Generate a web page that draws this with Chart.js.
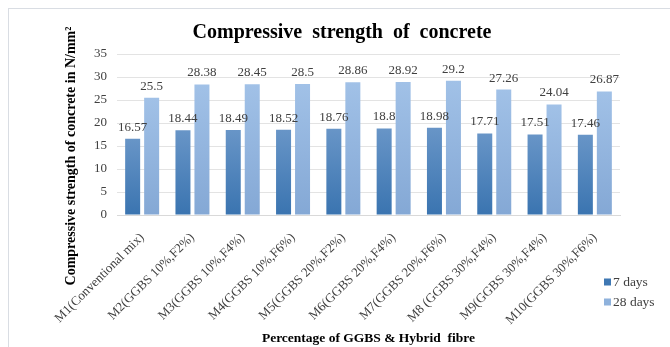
<!DOCTYPE html>
<html>
<head>
<meta charset="utf-8">
<script src="https://cdn.jsdelivr.net/npm/chart.js@4/dist/chart.umd.min.js"></script>
<style>
  html, body { margin: 0; padding: 0; background: #ffffff; overflow: hidden; }
  #wrap { position: relative; width: 670px; height: 347px; }
  #frame { position: absolute; left: 8px; top: 8px; width: 700px; height: 400px; border: 1px solid #d9dde3; box-sizing: border-box; }
  #c { position: absolute; left: 0; top: 0; }
</style>
</head>
<body>
<div id="wrap">
  <div id="frame"></div>
  <canvas id="c" width="670" height="347"></canvas>
</div>
<script>
// Mix designations
const categories = [
  'M1(Conventional mix)',
  'M2(GGBS 10%,F2%)',
  'M3(GGBS 10%,F4%)',
  'M4(GGBS 10%,F6%)',
  'M5(GGBS 20%,F2%)',
  'M6(GGBS 20%,F4%)',
  'M7(GGBS 20%,F6%)',
  'M8 (GGBS 30%,F4%)',
  'M9(GGBS 30%,F4%)',
  'M10(GGBS 30%,F6%)'
];
// Compressive strength, N/mm²
const days7 = [16.57, 18.44, 18.49, 18.52, 18.76, 18.8, 18.98, 17.71, 17.51, 17.46];
const days28 = [25.5, 28.38, 28.45, 28.5, 28.86, 28.92, 29.2, 27.26, 24.04, 26.87];
const yTicks = [0, 5, 10, 15, 20, 25, 30, 35];

const SERIF = '"Liberation Serif", "Times New Roman", serif';

// Vertical gradient for each bar, from its top down to the baseline
function barGradient(top, bottom) {
  return function (ctx) {
    const chart = ctx.chart;
    const area = chart.chartArea;
    if (!area || ctx.type !== 'data') return bottom;
    const y = chart.scales.y;
    const yTop = y.getPixelForValue(ctx.raw);
    const yBase = y.getPixelForValue(0);
    const g = chart.ctx.createLinearGradient(0, yTop, 0, yBase);
    g.addColorStop(0, top);
    g.addColorStop(1, bottom);
    return g;
  };
}

// Value labels above every bar
const valueLabels = {
  id: 'valueLabels',
  afterDatasetsDraw(chart) {
    const ctx = chart.ctx;
    ctx.save();
    ctx.font = '13px ' + SERIF;
    ctx.fillStyle = '#404040';
    ctx.textAlign = 'center';
    ctx.textBaseline = 'bottom';
    chart.data.datasets.forEach((ds, i) => {
      chart.getDatasetMeta(i).data.forEach((bar, j) => {
        ctx.fillText(String(ds.data[j]), bar.x, bar.y - 5);
      });
    });
    ctx.restore();
  }
};

// Rotated y-axis caption
const yCaption = {
  id: 'yCaption',
  afterDraw(chart) {
    const ctx = chart.ctx;
    ctx.save();
    ctx.translate(71, 156);
    ctx.rotate(-Math.PI / 2);
    ctx.font = 'bold 14px ' + SERIF;
    ctx.fillStyle = '#000000';
    ctx.textAlign = 'center';
    ctx.textBaseline = 'middle';
    ctx.fillText('Compressive strength of concrete in N/mm²', 0, 0);
    ctx.restore();
  }
};

// Series key at the lower right
const seriesKey = {
  id: 'seriesKey',
  afterDraw(chart) {
    const ctx = chart.ctx;
    const swatches = ['#3f78b3', '#8fb2dc'];
    ctx.save();
    ctx.font = '13.5px ' + SERIF;
    ctx.textAlign = 'left';
    ctx.textBaseline = 'middle';
    chart.data.datasets.forEach((ds, i) => {
      const y = 282 + i * 20;
      ctx.fillStyle = swatches[i];
      ctx.fillRect(604, y - 3.5, 7, 7);
      ctx.fillStyle = '#404040';
      ctx.fillText(ds.label, 613, y);
    });
    ctx.restore();
  }
};

new Chart(document.getElementById('c'), {
  type: 'bar',
  data: {
    labels: categories,
    datasets: [
      {
        label: '7 days',
        data: days7,
        backgroundColor: barGradient('#6895c7', '#3a74b0'),
        borderWidth: 0,
        categoryPercentage: 0.755,
        barPercentage: 0.79
      },
      {
        label: '28 days',
        data: days28,
        backgroundColor: barGradient('#a1c1e7', '#84a8d5'),
        borderWidth: 0,
        categoryPercentage: 0.755,
        barPercentage: 0.79
      }
    ]
  },
  options: {
    responsive: false,
    devicePixelRatio: 1,
    animation: false,
    layout: { padding: { left: 64, right: 50, top: 0, bottom: 0 } },
    plugins: {
      legend: { display: false },
      tooltip: { enabled: false },
      title: {
        display: true,
        text: 'Compressive  strength  of  concrete',
        color: '#000000',
        font: { family: SERIF, size: 20, weight: 'bold' },
        padding: { top: 21, bottom: 9 }
      }
    },
    scales: {
      x: {
        grid: { display: false, drawTicks: false },
        border: { display: true, color: '#d9d9d9' },
        ticks: {
          color: '#404040',
          font: { family: SERIF, size: 13 },
          minRotation: 45,
          maxRotation: 45,
          autoSkip: false,
          padding: 15
        },
        title: {
          display: true,
          text: 'Percentage of GGBS & Hybrid  fibre',
          color: '#000000',
          font: { family: SERIF, size: 13.5, weight: 'bold' },
          padding: { top: 0, bottom: 0 }
        },
        afterFit(scale) { scale.height = 132; }
      },
      y: {
        min: 0,
        max: 35,
        afterBuildTicks(scale) { scale.ticks = yTicks.map(v => ({ value: v })); },
        grid: { color: '#e3e3e3', drawTicks: false },
        border: { display: false },
        ticks: {
          color: '#404040',
          font: { family: SERIF, size: 13 },
          padding: 10
        },
        afterFit(scale) { scale.width = 53; }
      }
    }
  },
  plugins: [valueLabels, yCaption, seriesKey]
});
</script>
</body>
</html>
